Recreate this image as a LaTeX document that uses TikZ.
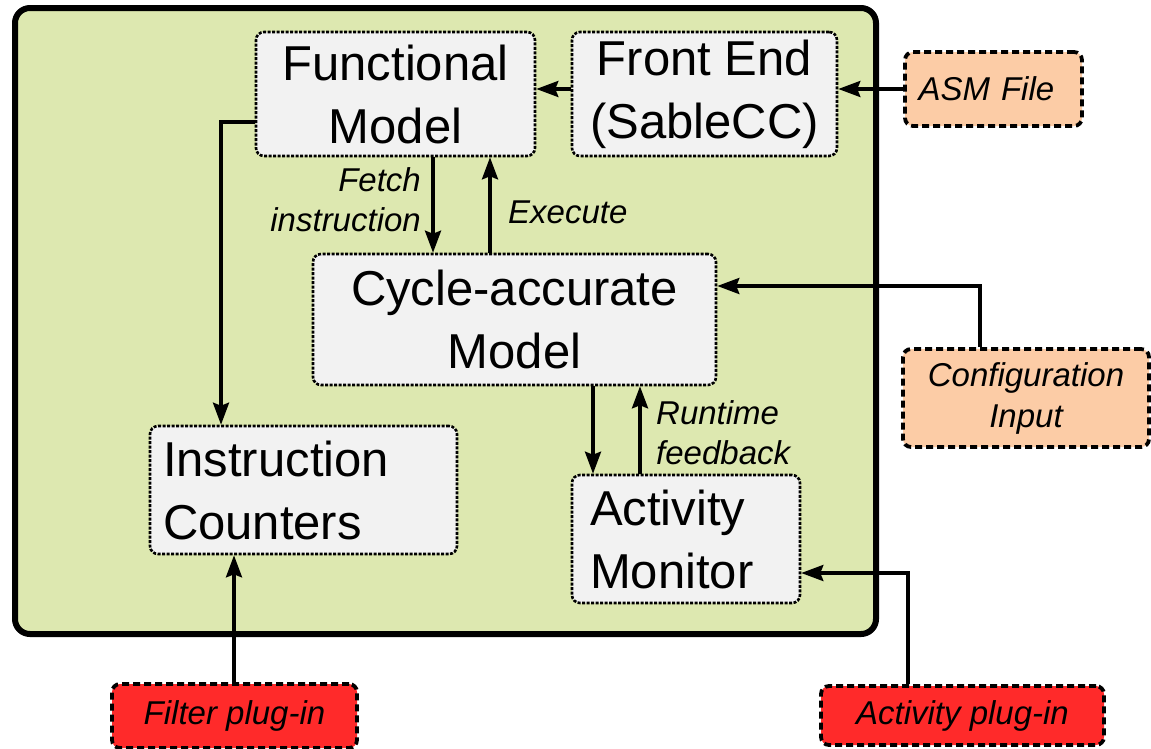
\documentclass[tikz,border=0pt]{standalone}
\usepackage{fontspec}
\setmainfont{Liberation Sans}
\usetikzlibrary{arrows.meta,calc}
\definecolor{outergreen}{RGB}{221,232,176}
\definecolor{boxgray}{RGB}{242,242,242}
\definecolor{peach}{RGB}{252,204,166}
\definecolor{plugred}{RGB}{255,42,42}
\begin{document}
\begin{tikzpicture}[x=1pt,y=-1pt,
  blk/.style={draw=black,fill=boxgray,rounded corners=8pt,line width=2.6pt,
    dash pattern=on 3pt off 1.5pt,inner sep=0pt,align=center,
    font=\fontsize{49}{63}\selectfont},
  ext/.style={draw=black,rounded corners=8pt,line width=3.8pt,
    dash pattern=on 7pt off 4pt,inner sep=0pt,align=center,
    font=\fontsize{33}{41}\selectfont\itshape},
  lbl/.style={inner sep=0pt,font=\fontsize{33}{40}\selectfont\itshape},
  arr/.style={line width=3.4pt,-{Stealth[length=22pt,width=16pt,inset=3pt]}}]
\useasboundingbox (0,0) rectangle (1151,748);
% outer container
\draw[line width=6pt,fill=outergreen,rounded corners=15pt] (15,8) rectangle (876,634);
% inner blocks
\node[blk,minimum width=279pt,minimum height=124pt] (fm) at (395.5,94) {Functional\\Model};
\node[blk,minimum width=265pt,minimum height=124pt] (fe) at (704.5,94) {Front End\\(SableCC)};
\node[blk,minimum width=403pt,minimum height=131pt] (cm) at (514.5,319.5) {Cycle-accurate\\Model};
\node[blk,minimum width=307pt,minimum height=128pt,text width=281pt,align=left] (ic) at (303.5,490) {Instruction\\Counters};
\node[blk,minimum width=228pt,minimum height=128pt,text width=192pt,align=left] (am) at (686,539) {Activity\\Monitor};
% external inputs
\node[ext,fill=peach,minimum width=177pt,minimum height=74pt,text width=150pt,align=left] (asm) at (993.5,89) {ASM File};
\node[ext,fill=peach,minimum width=246pt,minimum height=98pt] (cfg) at (1026,398) {Configuration\\Input};
\node[ext,fill=plugred,minimum width=245pt,minimum height=64pt] (flt) at (234.5,716) {Filter plug-in};
\node[ext,fill=plugred,minimum width=283pt,minimum height=59pt] (apl) at (962.5,715.5) {Activity plug-in};
% connectors
\draw[arr] (asm.west) -- (asm.west -| fe.east);
\draw[arr] (fe.west |- asm.west) -- (fm.east |- asm.west);
\draw[arr] (fm.west |- 0,122) -| (ic.north -| 221,0);
\draw[arr] (fm.south -| 433,0) -- (cm.north -| 433,0);
\draw[arr] (cm.north -| 490,0) -- (fm.south -| 490,0);
\draw[arr] (cfg.north -| 980,0) |- (cm.east |- 0,286);
\draw[arr] (cm.south -| 593,0) -- (am.north -| 593,0);
\draw[arr] (am.north -| 640,0) -- (cm.south -| 640,0);
\draw[arr] (apl.north -| 908,0) |- (am.east |- 0,573);
\draw[arr] (flt.north -| 234,0) -- (ic.south -| 234,0);
% labels
\node[lbl,align=right,anchor=north east] (lfetch) at (421,167) {Fetch\\instruction};
\node[lbl,align=left,anchor=north west] (lexec) at (508,201) {Execute};
\node[lbl,align=left,anchor=north west] (lrun) at (656,400) {Runtime\\feedback};
\end{tikzpicture}
\end{document}
